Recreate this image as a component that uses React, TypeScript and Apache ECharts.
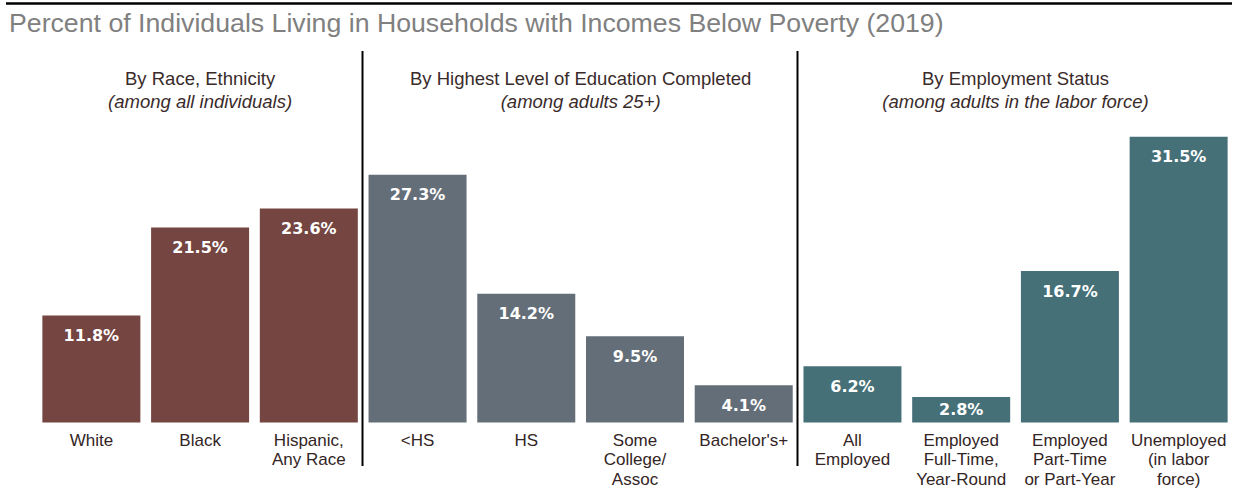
import React, { useEffect, useRef } from "react";
import * as echarts from "echarts";

const categories = [
  "White",
  "Black",
  "Hispanic,\nAny Race",
  "<HS",
  "HS",
  "Some\nCollege/\nAssoc",
  "Bachelor's+",
  "All\nEmployed",
  "Employed\nFull-Time,\nYear-Round",
  "Employed\nPart-Time\nor Part-Year",
  "Unemployed\n(in labor\nforce)",
];
const values = [11.8, 21.5, 23.6, 27.3, 14.2, 9.5, 4.1, 6.2, 2.8, 16.7, 31.5];
const groupIndex = [0, 0, 0, 1, 1, 1, 1, 2, 2, 2, 2];
const groupColors = ["#744541", "#646e78", "#467077"];
const groupTitles = ["By Race, Ethnicity", "By Highest Level of Education Completed", "By Employment Status"];
const groupSubtitles = ["(among all individuals)", "(among adults 25+)", "(among adults in the labor force)"];
const titleText = "Percent of Individuals Living in Households with Incomes Below Poverty (2019)";

const FONT = "Liberation Sans";

export default function App() {
  const ref = useRef<HTMLDivElement>(null);
  useEffect(() => {
    if (!ref.current) return;
    const chart = echarts.init(ref.current, null, { renderer: "svg" });
    const gridLeft = 37;
    const gridRight = 1;
    const width = 1234;
    const band = (width - gridLeft - gridRight) / categories.length;
    const groupRanges: [number, number][] = [];
    groupIndex.forEach((g, i) => {
      if (!groupRanges[g]) groupRanges[g] = [i, i];
      else groupRanges[g][1] = i;
    });
    const headerGraphics: any[] = [];
    groupRanges.forEach((r, g) => {
      const cx = gridLeft + band * ((r[0] + r[1] + 1) / 2);
      headerGraphics.push({
        type: "text",
        x: cx,
        y: 78,
        style: {
          text: groupTitles[g],
          fontSize: 18.5,
          fontFamily: FONT,
          fill: "#3a2b2b",
          align: "center",
          verticalAlign: "middle",
        },
      });
      headerGraphics.push({
        type: "text",
        x: cx,
        y: 101,
        style: {
          text: groupSubtitles[g],
          fontSize: 18.5,
          fontStyle: "italic",
          fontFamily: FONT,
          fill: "#3a2b2b",
          align: "center",
          verticalAlign: "middle",
        },
      });
      if (g > 0) {
        const x = Math.round(gridLeft + band * r[0]) - 0.5;
        headerGraphics.push({
          type: "line",
          shape: { x1: x, y1: 51, x2: x, y2: 466 },
          style: { stroke: "#000", lineWidth: 2 },
        });
      }
    });
    chart.setOption({
      animation: false,
      grid: { left: gridLeft, right: gridRight, top: 105, bottom: 62 },
      xAxis: {
        type: "category",
        data: categories,
        axisLine: { show: false },
        axisTick: { show: false },
        axisLabel: {
          interval: 0,
          margin: 8,
          fontSize: 17,
          lineHeight: 19.5,
          color: "#332525",
          fontFamily: FONT,
          verticalAlign: "top",
        },
      },
      yAxis: { type: "value", min: 0, max: 35, show: false, splitLine: { show: false } },
      graphic: [
        {
          type: "line",
          shape: { x1: 6, y1: 3.5, x2: 1232, y2: 3.5 },
          style: { stroke: "#000", lineWidth: 2.5 },
        },
        {
          type: "text",
          x: 9,
          y: 23,
          style: {
            text: titleText,
            fontSize: 26.7,
            fontFamily: FONT,
            fill: "#808080",
            verticalAlign: "middle",
          },
        },
        ...headerGraphics,
      ],
      series: [
        {
          type: "bar",
          barWidth: 98,
          data: values.map((v, i) => ({
            value: v,
            itemStyle: { color: groupColors[groupIndex[i]] },
            label: v < 3.5 ? { position: "inside" } : undefined,
          })),
          label: {
            show: true,
            position: "insideTop",
            distance: 12,
            formatter: (p: any) => p.value.toFixed(1) + "%",
            color: "#fff",
            fontSize: 16,
            fontWeight: "bold",
            fontFamily: "DejaVu Sans",
          },
        },
      ],
    });
    return () => chart.dispose();
  }, []);
  return (
    <div
      ref={ref}
      style={{ position: "absolute", left: 0, top: 0, width: 1234, height: 489, background: "#fff" }}
    />
  );
}
